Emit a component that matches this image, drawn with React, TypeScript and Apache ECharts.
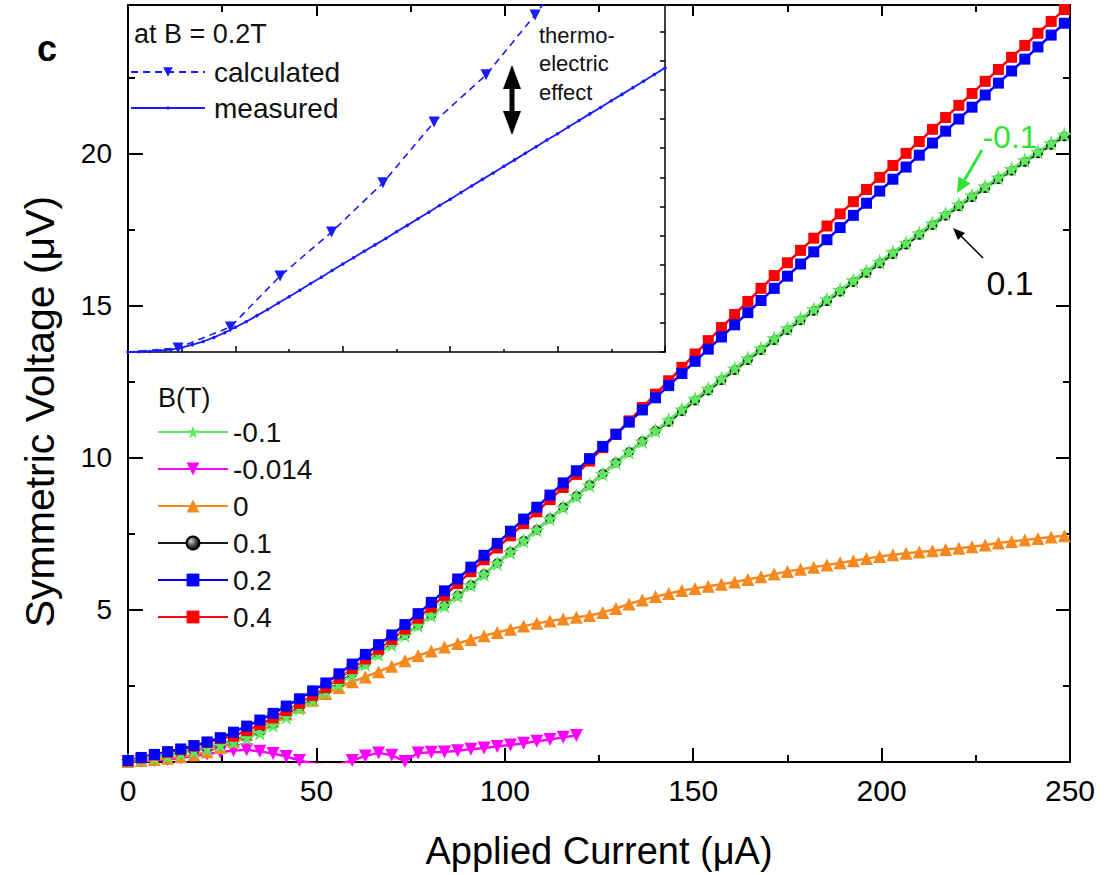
import React, { useEffect, useRef } from "react";
import * as echarts from "echarts";

const FONT = "'Liberation Sans', Arial, Helvetica, sans-serif";

// Applied current (µA) of the main measurements
const X_MAIN = [
  0, 3.5, 7, 10.5, 14, 17.5, 21, 24.5, 28, 31.5, 35, 38.5, 42, 45.5, 49, 52.5, 56, 59.5, 63, 66.5,
  70, 73.5, 77, 80.5, 84, 87.5, 91, 94.5, 98, 101.5, 105, 108.5, 112, 115.5, 119, 122.5, 126, 129.5,
  133, 136.5, 140, 143.5, 147, 150.5, 154, 157.5, 161, 164.5, 168, 171.5, 175, 178.5, 182, 185.5,
  189, 192.5, 196, 199.5, 203, 206.5, 210, 213.5, 217, 220.5, 224, 227.5, 231, 234.5, 238, 241.5,
  245, 248.5,
];

// Symmetric voltage (µV) for each field
const V_B_NEG01 = [
  0.04, 0.09, 0.14, 0.21, 0.28, 0.36, 0.45, 0.56, 0.66, 0.8,
  0.96, 1.22, 1.49, 1.77, 2.04, 2.32, 2.57, 2.88, 3.22, 3.55,
  3.86, 4.18, 4.5, 4.83, 5.15, 5.48, 5.82, 6.18, 6.54, 6.91,
  7.28, 7.64, 8.01, 8.38, 8.75, 9.11, 9.48, 9.85, 10.2, 10.55,
  10.9, 11.25, 11.6, 11.95, 12.28, 12.62, 12.95, 13.28, 13.61, 13.94,
  14.27, 14.59, 14.9, 15.22, 15.53, 15.85, 16.15, 16.46, 16.77, 17.08,
  17.4, 17.72, 18.03, 18.34, 18.64, 18.94, 19.23, 19.51, 19.8, 20.08,
  20.36, 20.64,
];
const V_B_NEG0014 = [
  0.02, 0.03, 0.05, 0.08, 0.13, 0.2, 0.26, 0.32, 0.38, 0.4,
  0.35, 0.28, 0.18, 0.05, -0.05, -0.1, -0.08, 0.05, 0.2, 0.3,
  0.22, 0.02, 0.3, 0.32, 0.33, 0.37, 0.42, 0.46, 0.51, 0.56,
  0.62, 0.68, 0.74, 0.81, 0.87,
];
const V_B_0 = [
  0.02, 0.05, 0.08, 0.12, 0.17, 0.24, 0.34, 0.48, 0.68, 0.9,
  1.12, 1.35, 1.58, 1.8, 2.03, 2.25, 2.45, 2.64, 2.8, 2.97,
  3.15, 3.33, 3.5, 3.65, 3.78, 3.9, 4.03, 4.15, 4.26, 4.37,
  4.47, 4.56, 4.64, 4.7, 4.76, 4.82, 4.92, 5.05, 5.2, 5.33,
  5.44, 5.54, 5.64, 5.71, 5.78, 5.85, 5.92, 6.0, 6.09, 6.18,
  6.27, 6.34, 6.41, 6.48, 6.55, 6.62, 6.69, 6.76, 6.82, 6.87,
  6.91, 6.95, 6.99, 7.03, 7.08, 7.14, 7.2, 7.25, 7.3, 7.35,
  7.4, 7.44,
];
const V_B_01 = [
  0.06, 0.11, 0.16, 0.23, 0.3, 0.38, 0.47, 0.58, 0.68, 0.82,
  0.98, 1.24, 1.51, 1.79, 2.06, 2.34, 2.59, 2.9, 3.24, 3.57,
  3.88, 4.18, 4.5, 4.83, 5.15, 5.48, 5.82, 6.18, 6.54, 6.91,
  7.28, 7.64, 8.01, 8.38, 8.75, 9.11, 9.48, 9.85, 10.2, 10.55,
  10.9, 11.19, 11.54, 11.89, 12.22, 12.56, 12.89, 13.22, 13.55, 13.88,
  14.21, 14.53, 14.84, 15.16, 15.47, 15.79, 16.09, 16.4, 16.71, 17.02,
  17.34, 17.66, 17.97, 18.28, 18.58, 18.88, 19.17, 19.45, 19.74, 20.02,
  20.3, 20.58,
];
const V_B_02 = [
  0.05, 0.15, 0.25, 0.34, 0.43, 0.54, 0.66, 0.8, 0.98, 1.18,
  1.38, 1.6, 1.84, 2.08, 2.34, 2.6, 2.9, 3.22, 3.54, 3.86,
  4.18, 4.52, 4.88, 5.25, 5.63, 6.02, 6.41, 6.8, 7.19, 7.59,
  7.99, 8.38, 8.78, 9.18, 9.58, 9.98, 10.38, 10.78, 11.18, 11.58,
  11.98, 12.38, 12.78, 13.18, 13.58, 13.98, 14.38, 14.78, 15.18, 15.58,
  15.98, 16.38, 16.78, 17.18, 17.58, 17.98, 18.38, 18.78, 19.17, 19.57,
  19.96, 20.36, 20.75, 21.15, 21.54, 21.94, 22.33, 22.73, 23.12, 23.52,
  23.91, 24.3,
];
const V_B_04 = [
  0.03, 0.13, 0.23, 0.32, 0.41, 0.52, 0.64, 0.77, 0.85, 1.03,
  1.23, 1.45, 1.69, 1.93, 2.19, 2.45, 2.75, 3.07, 3.39, 3.71,
  4.03, 4.37, 4.73, 5.1, 5.48, 5.87, 6.26, 6.65, 7.04, 7.44,
  7.84, 8.23, 8.63, 9.03, 9.46, 9.9, 10.34, 10.78, 11.22, 11.66,
  12.1, 12.54, 12.98, 13.42, 13.86, 14.29, 14.72, 15.15, 15.58, 16.0,
  16.42, 16.83, 17.23, 17.63, 18.03, 18.43, 18.83, 19.23, 19.62, 20.02,
  20.41, 20.81, 21.2, 21.6, 21.99, 22.39, 22.78, 23.18, 23.57, 23.97,
  24.36, 24.75,
];

const FIELD_NAMES = ["-0.1", "-0.014", "0", "0.1", "0.2", "0.4"];

// Inset (B = 0.2T)
const INSET_CALC_X = [0, 23.3, 47.7, 70.8, 94.8, 118.7, 142.5, 166.7, 189.5, 198];
const INSET_CALC_Y = [0, 0.14, 0.86, 2.61, 4.12, 5.81, 7.9, 9.52, 11.58, 12.4];
const INSET_MEAS_X = [
  0, 5, 10, 15, 20, 25, 30, 35, 40, 45, 50, 55, 60, 65, 70, 75, 80, 85, 90, 95, 100, 105, 110, 115,
  120, 125, 130, 135, 140, 145, 150, 155, 160, 165, 170, 175, 180, 185, 190, 195, 200, 205, 210, 215,
  220, 225, 230, 235, 240, 245, 250,
];
const INSET_MEAS_Y = [
  0, 0.005, 0.02, 0.045, 0.08, 0.15, 0.25, 0.36, 0.5, 0.66, 0.85, 1.04, 1.25, 1.46, 1.68, 1.9, 2.12,
  2.35, 2.57, 2.8, 3.02, 3.24, 3.46, 3.68, 3.9, 4.13, 4.35, 4.58, 4.8, 5.03, 5.25, 5.48, 5.7, 5.93,
  6.15, 6.38, 6.6, 6.83, 7.05, 7.28, 7.5, 7.73, 7.95, 8.18, 8.4, 8.63, 8.85, 9.08, 9.3, 9.53, 9.76,
];

const STAR =
  "path://M50,0 L61,35 L98,35 L68,57 L79,91 L50,70 L21,91 L32,57 L2,35 L39,35 Z";

const pairs = (xs: number[], ys: number[]) => ys.map((y, i) => [xs[i], y]);

function arrowHead(tx: number, ty: number, fx: number, fy: number, len: number, half: number) {
  const dx = tx - fx;
  const dy = ty - fy;
  const L = Math.sqrt(dx * dx + dy * dy);
  const ux = dx / L;
  const uy = dy / L;
  const bx = tx - ux * len;
  const by = ty - uy * len;
  return {
    base: [bx, by],
    pts: [
      [tx, ty],
      [bx - uy * half, by + ux * half],
      [bx + uy * half, by - ux * half],
    ],
  };
}

export default function App() {
  const ref = useRef<HTMLDivElement>(null);

  useEffect(() => {
    if (!ref.current) return;
    const chart = echarts.init(ref.current, null, { renderer: "svg" });

    const mainLine = (
      name: string,
      ys: number[],
      color: string,
      symbol: string,
      size: number,
      extra: any = {}
    ) => ({
      name,
      type: "line",
      xAxisIndex: 0,
      yAxisIndex: 0,
      data: pairs(X_MAIN, ys),
      symbol,
      symbolSize: size,
      showSymbol: true,
      lineStyle: { color, width: 2.5 },
      itemStyle: { color },
      emphasis: { disabled: true },
      ...extra,
    });

    const ball = new echarts.graphic.RadialGradient(0.35, 0.35, 0.7, [
      { offset: 0, color: "#d8d8d8" },
      { offset: 0.5, color: "#555" },
      { offset: 1, color: "#000" },
    ]);

    const greenArrow = arrowHead(957, 193, 982, 150, 15, 7);
    const blackArrow = arrowHead(953, 228, 983, 258, 12, 5);

    const option: any = {
      animation: false,
      backgroundColor: "#ffffff",
      textStyle: { fontFamily: FONT },
      grid: [
        { left: 128, top: 5, width: 942, height: 761 },
        { left: 128, top: 5, width: 537, height: 347 },
      ],
      xAxis: [
        {
          type: "value",
          gridIndex: 0,
          position: "bottom",
          min: 0,
          max: 250,
          interval: 50,
          axisLine: { onZero: false, lineStyle: { color: "#000", width: 2 } },
          axisTick: { inside: true, length: 14, lineStyle: { color: "#000", width: 2 } },
          minorTick: { show: true, splitNumber: 2, length: 7, lineStyle: { color: "#000", width: 2 } },
          splitLine: { show: false },
          minorSplitLine: { show: false },
          axisLabel: { fontSize: 30, color: "#000", margin: 13, fontFamily: FONT },
          name: "Applied Current (μA)",
          nameLocation: "middle",
          nameGap: 70,
          nameTextStyle: { fontSize: 38, color: "#000", fontFamily: FONT },
        },
        {
          type: "value",
          gridIndex: 0,
          position: "top",
          min: 0,
          max: 250,
          interval: 50,
          axisLine: { onZero: false, lineStyle: { color: "#000", width: 2 } },
          axisTick: { inside: true, length: 11, lineStyle: { color: "#000", width: 2 } },
          minorTick: { show: true, splitNumber: 2, length: 7, lineStyle: { color: "#000", width: 2 } },
          splitLine: { show: false },
          axisLabel: { show: false },
        },
        {
          type: "value",
          gridIndex: 1,
          position: "bottom",
          min: 0,
          max: 250,
          interval: 50,
          axisLine: { onZero: false, lineStyle: { color: "#000", width: 1.5 } },
          axisTick: { inside: true, length: 6, lineStyle: { color: "#000", width: 1.5 } },
          minorTick: { show: true, splitNumber: 2, length: 3, lineStyle: { color: "#000", width: 1.5 } },
          splitLine: { show: false },
          axisLabel: { show: false },
        },
      ],
      yAxis: [
        {
          type: "value",
          gridIndex: 0,
          position: "left",
          min: 0,
          max: 24.9,
          interval: 5,
          axisLine: { onZero: false, lineStyle: { color: "#000", width: 2 } },
          axisTick: { inside: true, length: 15, lineStyle: { color: "#000", width: 2 } },
          minorTick: { show: true, splitNumber: 2, length: 7, lineStyle: { color: "#000", width: 2 } },
          splitLine: { show: false },
          minorSplitLine: { show: false },
          axisLabel: {
            fontSize: 28,
            color: "#000",
            margin: 16,
            fontFamily: FONT,
            formatter: (v: number) => (v > 0 && v <= 20 && Math.abs(v % 5) < 1e-6 ? String(v) : ""),
          },
          name: "Symmetric Voltage (μV)",
          nameLocation: "middle",
          nameGap: 68,
          nameTextStyle: { fontSize: 41, color: "#000", fontFamily: FONT, padding: [0, 56, 0, 0] },
        },
        {
          type: "value",
          gridIndex: 0,
          position: "right",
          min: 0,
          max: 24.9,
          interval: 5,
          axisLine: { onZero: false, lineStyle: { color: "#000", width: 2 } },
          axisTick: { inside: true, length: 14, lineStyle: { color: "#000", width: 2 } },
          minorTick: { show: true, splitNumber: 2, length: 7, lineStyle: { color: "#000", width: 2 } },
          splitLine: { show: false },
          axisLabel: { show: false },
        },
        {
          type: "value",
          gridIndex: 1,
          position: "right",
          min: 0,
          max: 11.92,
          interval: 1,
          axisLine: { onZero: false, lineStyle: { color: "#000", width: 1.5 } },
          axisTick: { inside: true, length: 5, lineStyle: { color: "#000", width: 1.5 } },
          splitLine: { show: false },
          axisLabel: { show: false },
        },
      ],
      legend: [
        {
          orient: "vertical",
          left: 157,
          top: 418,
          padding: 0,
          itemWidth: 70,
          itemHeight: 16,
          itemGap: 9,
          selectedMode: false,
          data: FIELD_NAMES,
          textStyle: { fontSize: 28, color: "#111", fontFamily: FONT, lineHeight: 28 },
        },
        {
          orient: "vertical",
          left: 130,
          top: 58,
          padding: 0,
          itemWidth: 74,
          itemHeight: 12,
          selectedMode: false,
          data: ["calculated"],
          textStyle: { fontSize: 28, color: "#111", fontFamily: FONT, lineHeight: 28, padding: [0, 0, 0, 4] },
        },
        {
          orient: "vertical",
          left: 130,
          top: 94,
          padding: 0,
          itemWidth: 74,
          itemHeight: 4,
          selectedMode: false,
          data: ["measured"],
          textStyle: { fontSize: 28, color: "#111", fontFamily: FONT, lineHeight: 28, padding: [0, 0, 0, 4] },
        },
      ],
      series: [
        {
          name: "-0.014",
          type: "line",
          xAxisIndex: 0,
          yAxisIndex: 0,
          data: pairs(X_MAIN, V_B_NEG0014),
          symbol: "triangle",
          symbolRotate: 180,
          symbolSize: 13,
          lineStyle: { color: "#ff00ff", width: 2.5 },
          itemStyle: { color: "#ff00ff" },
          emphasis: { disabled: true },
        },
        mainLine("0", V_B_0, "#f5891f", "triangle", 13),
        {
          ...mainLine("0.1", V_B_01, "#1a1a1a", "circle", 9),
          itemStyle: { color: ball, borderColor: "#000", borderWidth: 0.8 },
        },
        mainLine("-0.1", V_B_NEG01, "#5ee85e", STAR, 16),
        mainLine("0.4", V_B_04, "#ff0000", "rect", 11),
        mainLine("0.2", V_B_02, "#0000ff", "rect", 11),
        {
          name: "calculated",
          type: "line",
          xAxisIndex: 2,
          yAxisIndex: 2,
          data: INSET_CALC_X.map((x, i) =>
            i === 0 || i === INSET_CALC_X.length - 1
              ? { value: [x, INSET_CALC_Y[i]], symbol: "none" }
              : [x, INSET_CALC_Y[i]]
          ),
          symbol: "triangle",
          symbolRotate: 180,
          symbolSize: 11,
          lineStyle: { color: "#1a1aff", width: 1.6, type: [7, 5] },
          itemStyle: { color: "#1a1aff" },
          emphasis: { disabled: true },
        },
        {
          name: "measured",
          type: "line",
          xAxisIndex: 2,
          yAxisIndex: 2,
          data: pairs(INSET_MEAS_X, INSET_MEAS_Y),
          symbol: "circle",
          symbolSize: 3.5,
          lineStyle: { color: "#1a1aff", width: 1.8 },
          itemStyle: { color: "#1a1aff" },
          emphasis: { disabled: true },
        },
      ],
      graphic: [
        {
          type: "text",
          x: 47,
          y: 48,
          style: { text: "c", font: `bold 36px ${FONT}`, fill: "#000", align: "center", verticalAlign: "middle" },
        },
        {
          type: "text",
          x: 158,
          y: 398,
          style: { text: "B(T)", font: `27px ${FONT}`, fill: "#111", align: "left", verticalAlign: "middle" },
        },
        {
          type: "text",
          x: 134,
          y: 34,
          style: { text: "at B = 0.2T", font: `27px ${FONT}`, fill: "#111", align: "left", verticalAlign: "middle" },
        },
        {
          type: "text",
          x: 539,
          y: 35,
          style: { text: "thermo-", font: `22px ${FONT}`, fill: "#111", align: "left", verticalAlign: "middle" },
        },
        {
          type: "text",
          x: 539,
          y: 63,
          style: { text: "electric", font: `22px ${FONT}`, fill: "#111", align: "left", verticalAlign: "middle" },
        },
        {
          type: "text",
          x: 539,
          y: 92,
          style: { text: "effect", font: `22px ${FONT}`, fill: "#111", align: "left", verticalAlign: "middle" },
        },
        {
          type: "line",
          shape: { x1: 512, y1: 84, x2: 512, y2: 116 },
          style: { stroke: "#000", lineWidth: 5 },
        },
        {
          type: "polygon",
          shape: { points: [[512, 65], [503, 89], [521, 89]] },
          style: { fill: "#000" },
        },
        {
          type: "polygon",
          shape: { points: [[512, 135], [503, 111], [521, 111]] },
          style: { fill: "#000" },
        },
        {
          type: "text",
          x: 1010,
          y: 137,
          style: { text: "-0.1", font: `32px ${FONT}`, fill: "#33e233", align: "center", verticalAlign: "middle" },
        },
        {
          type: "line",
          shape: { x1: 982, y1: 150, x2: greenArrow.base[0], y2: greenArrow.base[1] },
          style: { stroke: "#33e233", lineWidth: 3 },
        },
        {
          type: "polygon",
          shape: { points: greenArrow.pts },
          style: { fill: "#33e233" },
        },
        {
          type: "text",
          x: 1010,
          y: 283,
          style: { text: "0.1", font: `34px ${FONT}`, fill: "#000", align: "center", verticalAlign: "middle" },
        },
        {
          type: "line",
          shape: { x1: 983, y1: 258, x2: blackArrow.base[0], y2: blackArrow.base[1] },
          style: { stroke: "#000", lineWidth: 1.5 },
        },
        {
          type: "polygon",
          shape: { points: blackArrow.pts },
          style: { fill: "#000" },
        },
      ],
    };

    chart.setOption(option);
    return () => chart.dispose();
  }, []);

  return (
    <div
      ref={ref}
      style={{ position: "absolute", left: 0, top: 0, width: 1109, height: 875 }}
    />
  );
}
